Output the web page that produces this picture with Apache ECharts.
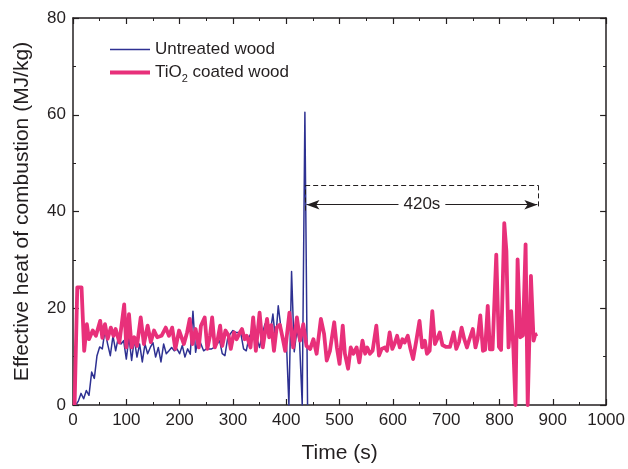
<!DOCTYPE html>
<html><head><meta charset="utf-8">
<script src="https://cdn.jsdelivr.net/npm/echarts@6/dist/echarts.min.js"></script>
<style>html,body{margin:0;padding:0;background:#fff}#c{width:628px;height:469px}</style>
</head><body><div id="c"></div>
<script>
const untreatedTime = [5,10,15,20,25,30,35,40,45,50,55,60,65,70,75,80,85,90,95,100,105,110,115,120,125,130,135,140,145,150,155,160,165,170,175,180,185,190,195,200,205,210,215,220,225,230,235,240,245,250,255,260,265,270,275,280,285,290,295,300,305,310,315,320,325,330,335,340,345,350,355,360,365,370,375,380,385,390,395,400,405,410,415,420,425,430,435,440];
const untreatedHeat = [0,0.8,2.4,1.3,3.0,2.0,6.8,5.5,10.2,12.0,11.6,15.4,12.6,10.2,14.3,11.2,14.0,12.6,13.3,9.5,14.0,9.2,13.6,9.9,12.6,8.9,12.6,10.6,11.9,12.9,9.9,11.9,8.9,12.6,10.6,11.2,11.9,11.2,11.6,10.6,12.3,9.9,11.6,10.5,19.4,10.9,14.0,12.6,11.2,11.6,11.6,11.6,11.9,12.6,13.3,10.6,10.2,13.7,14.7,15.4,15.0,15.0,14.7,11.6,11.2,14.0,15.0,16.7,13.7,11.9,14.7,16.7,17.4,15.0,18.8,13.3,20.5,16.0,12.6,14.0,0,27.6,11.0,15.4,13.0,0,60.5,0];
const coatedTime = [3,8,16,21,26,30,37,43,51,55,60,65,71,76,80,87,96,100,105,110,115,120,127,133,140,146,152,158,166,174,180,186,192,199,208,214,219,224,230,236,240,247,252,257,261,266,271,276,280,286,292,296,302,307,313,317,322,326,333,338,343,350,356,364,368,372,377,382,388,393,398,406,413,420,426,432,438,445,451,457,465,471,476,482,490,495,500,506,510,516,521,526,532,537,543,548,552,557,562,569,574,579,585,589,594,599,603,608,613,618,622,628,633,638,644,650,655,660,664,669,674,679,683,688,693,700,707,714,719,724,729,734,739,744,750,755,759,764,769,773,778,782,787,794,799,803,809,813,817,822,826,830,834,839,844,849,853,859,864,867,871];
const coatedHeat = [0,24.3,24.3,11.2,16.7,13.6,15.4,14.3,17.4,13.9,16.7,13.7,16.0,14.3,15.7,12.9,20.8,11.9,18.8,11.9,14.0,12.2,18.1,12.6,16.4,13.0,15.4,14.0,14.3,16.0,14.3,16.0,11.6,15.4,12.6,15.0,17.8,12.6,15.7,11.9,16.4,18.1,11.6,14.3,18.1,11.9,13.3,16.4,12.2,15.4,14.3,11.6,15.0,13.6,15.0,15.7,13.6,14.3,11.9,18.1,11.2,19.1,11.9,17.8,14.0,16.5,11.2,16.0,16.6,14.0,11.2,19.1,11.9,18.1,13.3,16.7,12.2,11.6,13.6,10.6,17.8,14.7,9.2,11.2,17.1,11.9,8.5,16.4,10.6,7.5,11.9,10.6,11.9,8.8,13.3,10.6,11.9,10.6,11.2,16.4,10.2,11.6,11.9,11.2,15.0,11.6,12.6,14.3,11.9,13.6,12.9,14.3,11.6,9.5,13.3,17.4,11.9,13.3,10.6,11.2,19.4,12.6,13.6,15.0,12.4,12.0,12.0,15.0,11.6,13.0,16.0,13.6,11.9,13.7,15.7,11.9,13.7,18.5,11.2,11.4,20.5,11.5,11.5,31.1,12.0,11.4,37.6,31.8,11.9,19.4,11.9,0,30.1,14.0,14.4,33.2,0,26.7,13.3,14.5,14.7];
const seriesNames = ['Untreated wood', 'TiO2 coated wood'];
const annotationText = '420s';
const annStart = 435.5, annEnd = 873, annTop = 45.4, annArrow = 41.4, annLeftBottom = 40.2, annRightBottom = 40.6;

const FONT = 'Liberation Sans, Arial, Helvetica, sans-serif';
const INK = '#231f20';
const BLUE = '#2e3192';
const PINK = '#e8307a';
const chart = echarts.init(document.getElementById('c'), null, {renderer: 'canvas'});

function xAx(pos, showLabel) {
  return {
    type: 'value', min: 0, max: 1000, interval: 100, position: pos,
    axisLine: {show: true, onZero: false, lineStyle: {color: INK, width: 1.5}},
    axisTick: {show: true, inside: true, length: 6, lineStyle: {color: INK, width: 1.2}},
    minorTick: {show: true, splitNumber: 2, length: 3, lineStyle: {color: INK, width: 1}},
    axisLabel: {show: showLabel, fontSize: 17, color: INK, fontFamily: FONT, margin: 7, formatter: v => String(v)},
    splitLine: {show: false},
    name: showLabel ? 'Time (s)' : '', nameLocation: 'middle', nameGap: 38,
    nameTextStyle: {fontSize: 21, color: INK, fontFamily: FONT}
  };
}
function yAx(pos, showLabel) {
  return {
    type: 'value', min: 0, max: 80, interval: 20, position: pos,
    axisLine: {show: true, onZero: false, lineStyle: {color: INK, width: 1.5}},
    axisTick: {show: true, inside: true, length: 6, lineStyle: {color: INK, width: 1.2}},
    minorTick: {show: true, splitNumber: 2, length: 3, lineStyle: {color: INK, width: 1}},
    axisLabel: {show: showLabel, fontSize: 17, color: INK, fontFamily: FONT, margin: 7, formatter: v => String(v)},
    splitLine: {show: false},
    name: showLabel ? 'Effective heat of combustion (MJ/kg)' : '', nameLocation: 'middle', nameGap: 40,
    nameTextStyle: {fontSize: 21, color: INK, fontFamily: FONT}
  };
}
function legendFor(name, top, thick, color) {
  return {
    orient: 'vertical', left: 110, top: top, padding: 0, itemWidth: 40, itemHeight: thick,
    icon: 'rect', data: [name], selectedMode: false,
    itemStyle: {color: color},
    textStyle: {fontSize: 17, color: INK, fontFamily: FONT,
      rich: {sub: {fontSize: 11, color: INK, fontFamily: FONT, verticalAlign: 'bottom', padding: [0, 0, -3, 0]}}},
    formatter: n => n === 'TiO2 coated wood' ? 'TiO{sub|2} coated wood' : n
  };
}

const option = {
  animation: false,
  backgroundColor: '#fff',
  grid: {left: 73, right: 21, top: 18, bottom: 61, containLabel: false},
  xAxis: [xAx('bottom', true), xAx('top', false)],
  yAxis: [yAx('left', true), yAx('right', false)],
  legend: [legendFor(seriesNames[0], 41, 1.5, BLUE), legendFor(seriesNames[1], 64, 3.8, PINK)],
  series: [
    {
      name: seriesNames[0], type: 'line', symbol: 'none', showSymbol: false,
      data: untreatedTime.map((t, i) => [t, untreatedHeat[i]]),
      lineStyle: {color: BLUE, width: 1.5, join: 'round'},
      itemStyle: {color: BLUE}, z: 2
    },
    {
      name: seriesNames[1], type: 'line', symbol: 'none', showSymbol: false,
      data: coatedTime.map((t, i) => [t, coatedHeat[i]]),
      lineStyle: {color: PINK, width: 3.8, join: 'round'},
      itemStyle: {color: PINK}, z: 3,
      markLine: {
        silent: true, animation: false, symbol: 'none',
        label: {show: false},
        lineStyle: {type: [5, 3], color: INK, width: 1},
        data: [
          [{coord: [annStart, annLeftBottom]}, {coord: [annStart, annTop]}],
          [{coord: [annStart, annTop]}, {coord: [annEnd, annTop]}],
          [{coord: [annEnd, annTop]}, {coord: [annEnd, annRightBottom]}],
          [{coord: [annStart + 2.5, annArrow], symbol: 'arrow', symbolSize: [7, 13],
            lineStyle: {type: 'solid', color: INK, width: 1.2},
            label: {show: true, position: 'insideMiddle', distance: 0, formatter: annotationText,
              fontSize: 17, color: INK, fontFamily: FONT, backgroundColor: '#fff', padding: [1, 5]}},
           {coord: [annEnd - 2, annArrow], symbol: 'arrow', symbolSize: [7, 13]}]
        ]
      }
    }
  ]
};
chart.setOption(option);
</script>
</body></html>
